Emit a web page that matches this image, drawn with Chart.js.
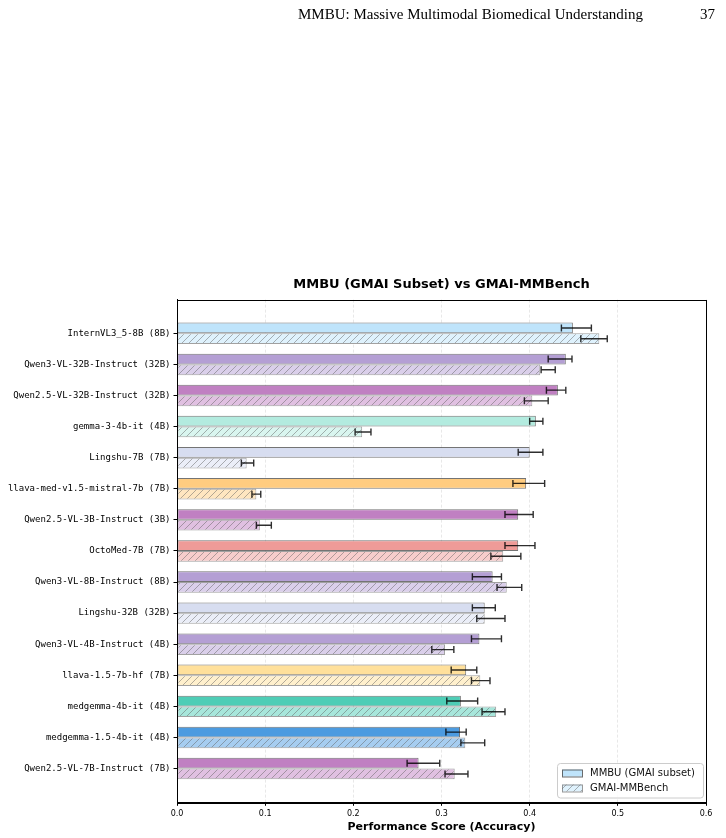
<!DOCTYPE html>
<html><head><meta charset="utf-8">
<script src="https://cdn.jsdelivr.net/npm/chart.js@4.4.1/dist/chart.umd.min.js"></script>
<style>
html,body{margin:0;padding:0;background:#fff;}
#wrap{position:relative;width:726px;height:838px;overflow:hidden;}
canvas{position:absolute;left:0;top:0;}
.hdr{position:absolute;font-family:"Liberation Serif","DejaVu Serif",serif;font-size:15px;line-height:1;color:#000;white-space:nowrap;}
</style></head><body>
<div id="wrap">
<canvas id="c" width="726" height="838"></canvas>
<div class="hdr" style="left:298px;top:7px;">MMBU: Massive Multimodal Biomedical Understanding</div>
<div class="hdr" style="left:700px;top:7px;">37</div>
</div>
<script>
// ---- data ----
const categories = [
  'InternVL3_5-8B (8B)','Qwen3-VL-32B-Instruct (32B)','Qwen2.5-VL-32B-Instruct (32B)','gemma-3-4b-it (4B)',
  'Lingshu-7B (7B)','llava-med-v1.5-mistral-7b (7B)','Qwen2.5-VL-3B-Instruct (3B)','OctoMed-7B (7B)',
  'Qwen3-VL-8B-Instruct (8B)','Lingshu-32B (32B)','Qwen3-VL-4B-Instruct (4B)','llava-1.5-7b-hf (7B)',
  'medgemma-4b-it (4B)','medgemma-1.5-4b-it (4B)','Qwen2.5-VL-7B-Instruct (7B)'
];
const mmbu   = [0.449,0.441,0.432,0.407,0.400,0.396,0.387,0.387,0.358,0.349,0.343,0.328,0.322,0.321,0.274];
const mmbuLo = [0.436,0.421,0.419,0.400,0.387,0.381,0.372,0.372,0.335,0.335,0.334,0.311,0.306,0.305,0.261];
const mmbuHi = [0.470,0.448,0.441,0.415,0.415,0.417,0.404,0.406,0.368,0.361,0.368,0.340,0.341,0.328,0.298];
const gmai   = [0.479,0.412,0.403,0.210,0.079,0.090,0.094,0.370,0.374,0.349,0.304,0.344,0.362,0.327,0.315];
const gmaiLo = [0.458,0.413,0.394,0.202,0.073,0.085,0.090,0.356,0.363,0.340,0.289,0.334,0.346,0.322,0.304];
const gmaiHi = [0.488,0.429,0.421,0.220,0.087,0.095,0.107,0.390,0.391,0.372,0.314,0.355,0.372,0.349,0.330];
const xTicks = [0.0,0.1,0.2,0.3,0.4,0.5,0.6];
const seriesNames = ['MMBU (GMAI subset)','GMAI-MMBench'];

// ---- styles ----
const colors = ['#bfe4fb','#b49fd4','#c080c2','#b3ebdf','#d7ddf0','#ffcc80','#c080c2','#ef9b98',
                '#b49fd4','#d7ddf0','#b49fd4','#ffe09b','#4ecdb6','#4c9be0','#c080c2'];
function mix(hex,t){const n=parseInt(hex.slice(1),16);const r=n>>16,g=(n>>8)&255,b=n&255;
  const f=v=>Math.round(v+(255-v)*t);return `rgb(${f(r)},${f(g)},${f(b)})`;}
function hatch(fill){
  const s=7,c=document.createElement('canvas');c.width=s;c.height=s;const g=c.getContext('2d');
  g.fillStyle=fill;g.fillRect(0,0,s,s);
  g.strokeStyle='rgba(95,95,95,0.6)';g.lineWidth=0.8;g.beginPath();
  g.moveTo(0,s);g.lineTo(s,0);g.moveTo(-1,1);g.lineTo(1,-1);g.moveTo(s-1,s+1);g.lineTo(s+1,s-1);g.stroke();
  return g.createPattern(c,'repeat');
}
const ctx=document.getElementById('c').getContext('2d');
const hatchFills=colors.map(c=>hatch(mix(c,0.5)));

const errs=[[mmbuLo,mmbuHi],[gmaiLo,gmaiHi]];
const errorBars={id:'errorBars',afterDatasetsDraw(chart){
  const c=chart.ctx,xs=chart.scales.x;
  chart.data.datasets.forEach((d,di)=>{
    const meta=chart.getDatasetMeta(di);
    meta.data.forEach((el,i)=>{
      const lo=xs.getPixelForValue(errs[di][0][i]),hi=xs.getPixelForValue(errs[di][1][i]),y=el.y;
      c.save();c.strokeStyle='rgba(0,0,0,0.82)';c.lineWidth=1.4;c.beginPath();
      c.moveTo(lo,y);c.lineTo(hi,y);c.moveTo(lo,y-3.5);c.lineTo(lo,y+3.5);c.moveTo(hi,y-3.5);c.lineTo(hi,y+3.5);
      c.stroke();c.restore();
    });
  });
}};
const frame={id:'frame',afterDraw(chart){
  const a=chart.chartArea,c=chart.ctx;c.save();c.strokeStyle='#000';c.lineWidth=1;
  c.strokeRect(Math.round(a.left)+0.5,Math.round(a.top)+0.5,Math.round(a.right-a.left),Math.round(a.bottom-a.top));
  // legend
  const bx=557.5,by=763.5,bw=146,bh=34.5,r=3;
  c.fillStyle='rgba(255,255,255,0.85)';c.strokeStyle='#cccccc';c.beginPath();
  c.moveTo(bx+r,by);c.lineTo(bx+bw-r,by);c.quadraticCurveTo(bx+bw,by,bx+bw,by+r);c.lineTo(bx+bw,by+bh-r);
  c.quadraticCurveTo(bx+bw,by+bh,bx+bw-r,by+bh);c.lineTo(bx+r,by+bh);c.quadraticCurveTo(bx,by+bh,bx,by+bh-r);
  c.lineTo(bx,by+r);c.quadraticCurveTo(bx,by,bx+r,by);c.closePath();c.fill();c.stroke();
  const rows=[773,788];
  const fills=[colors[0],hatch(mix(colors[0],0.5))],strokes=['rgba(70,70,70,0.8)','rgba(110,110,110,0.7)'];
  rows.forEach((yy,k)=>{
    c.fillStyle=fills[k];c.fillRect(562,yy-3.5,20,7);c.strokeStyle=strokes[k];c.lineWidth=1;
    c.strokeRect(562.5,yy-3,20,7);
    c.fillStyle='#111';c.font='10px "DejaVu Sans"';c.textBaseline='middle';c.textAlign='left';
    c.fillText(chart.data.datasets[k].label,590,yy+0.5);
  });
  c.restore();
}};

new Chart(ctx,{
  type:'bar',
  data:{datasets:[
    {label:seriesNames[0],data:mmbu.map((v,i)=>({x:v,y:i})),backgroundColor:colors,
     borderColor:'rgba(70,70,70,0.75)',borderWidth:1,borderSkipped:false,categoryPercentage:0.69,barPercentage:1.0},
    {label:seriesNames[1],data:gmai.map((v,i)=>({x:v,y:i})),backgroundColor:hatchFills,
     borderColor:'rgba(110,110,110,0.65)',borderWidth:1,borderSkipped:false,categoryPercentage:0.69,barPercentage:1.0}
  ]},
  options:{
    indexAxis:'y',responsive:false,animation:false,
    layout:{padding:{left:0,right:20,top:270,bottom:0}},
    plugins:{
      legend:{display:false},tooltip:{enabled:false},
      title:{display:true,text:'MMBU (GMAI Subset) vs GMAI-MMBench',fullSize:false,color:'#000',
        font:{family:'DejaVu Sans',size:13,weight:'bold'},padding:{top:7,bottom:7}}
    },
    scales:{
      x:{type:'linear',min:0,max:0.6,bounds:'data',offset:false,
        afterBuildTicks(s){s.ticks=xTicks.map(v=>({value:v}));},
        afterFit(s){s.height=35.7;},
        ticks:{callback:v=>Number(v).toFixed(1),color:'#000',font:{family:'DejaVu Sans',size:8},padding:3,maxRotation:0},
        grid:{offset:false,color:'#e2e2e2',lineWidth:0.8,drawTicks:true,tickColor:'#000',tickLength:3.5,tickWidth:1,tickBorderDash:[]},
        border:{display:true,color:'#000',width:1,dash:[3,2]},
        title:{display:true,text:'Performance Score (Accuracy)',color:'#000',font:{family:'DejaVu Sans',size:11,weight:'bold'},padding:{top:2,bottom:4}}
      },
      y:{type:'linear',reverse:true,min:-1.085,max:15.085,bounds:'data',offset:false,
        afterBuildTicks(s){s.ticks=categories.map((c,i)=>({value:i}));},
        afterFit(s){s.width=177;},
        ticks:{autoSkip:false,callback:v=>categories[v],color:'#000',font:{family:'DejaVu Sans Mono',size:9},padding:3},
        grid:{offset:false,drawOnChartArea:false,drawTicks:true,tickColor:'#000',tickLength:3.5,tickWidth:1},
        border:{display:true,color:'#000',width:1}
      }
    }
  },
  plugins:[errorBars,frame]
});
</script>
</body></html>
